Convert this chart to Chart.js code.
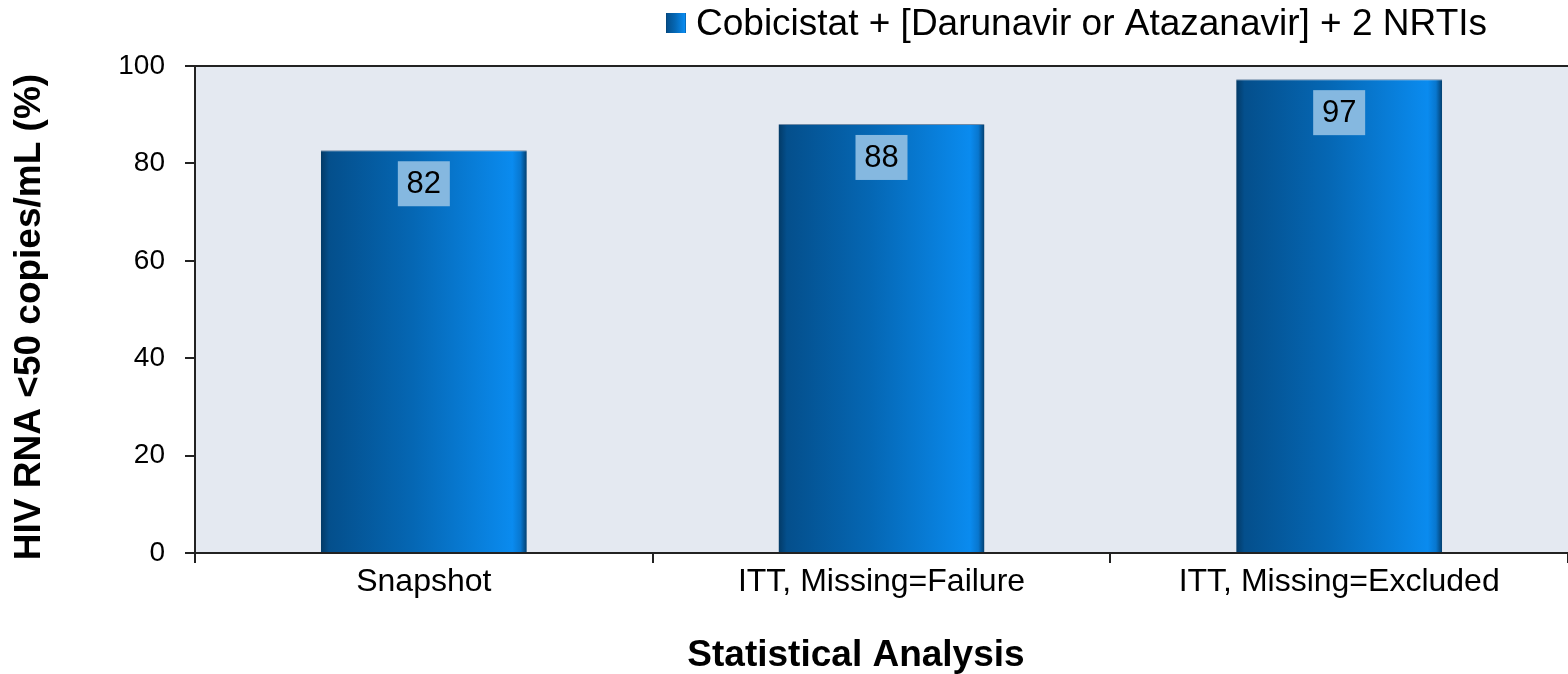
<!DOCTYPE html>
<html>
<head>
<meta charset="utf-8">
<script src="https://cdn.jsdelivr.net/npm/chart.js@4/dist/chart.umd.min.js"></script>
<style>
  html,body{margin:0;padding:0;background:#fff;}
  #wrap{width:1568px;height:674px;position:relative;}
</style>
</head>
<body>
<div id="wrap"><canvas id="c"></canvas></div>
<script>
// data
const categories = ['Snapshot', 'ITT, Missing=Failure', 'ITT, Missing=Excluded'];
const values = [82.7, 88.1, 97.3];
const valueLabels = ['82', '88', '97'];
const seriesName = 'Cobicistat + [Darunavir or Atazanavir] + 2 NRTIs';
const yTicks = [0, 20, 40, 60, 80, 100];
const xTitle = 'Statistical Analysis';
const yTitle = 'HIV RNA <50 copies/mL (%)';

const FONT = "'Liberation Sans', Arial, sans-serif";
const INK = '#000';
const AXIS = '#222';

function barGradient(ctx, x0, x1){
  const g = ctx.createLinearGradient(x0, 0, x1, 0);
  g.addColorStop(0, '#033a66');
  g.addColorStop(0.04, '#044f8c');
  g.addColorStop(0.45, '#0567b4');
  g.addColorStop(0.93, '#0a8bef');
  g.addColorStop(0.97, '#0877cf');
  g.addColorStop(1, '#033f6f');
  return g;
}

// plot background
const plotBg = {
  id: 'plotBg',
  beforeDraw(chart){
    const {ctx, chartArea: a} = chart;
    ctx.save();
    ctx.fillStyle = '#e4e9f1';
    ctx.fillRect(a.left, a.top, a.right - a.left, a.bottom - a.top);
    ctx.restore();
  }
};

// value boxes near the bar tops
const valueBoxes = {
  id: 'valueBoxes',
  afterDatasetsDraw(chart){
    const ctx = chart.ctx;
    const meta = chart.getDatasetMeta(0);
    ctx.save();
    meta.data.forEach((bar, i) => {
      const w = 52, h = 45;
      const top = bar.y + 11;
      ctx.fillStyle = '#85b8e0';
      ctx.fillRect(bar.x - w/2, top, w, h);
      ctx.fillStyle = INK;
      ctx.font = '31px ' + FONT;
      ctx.textAlign = 'center';
      ctx.textBaseline = 'middle';
      ctx.fillText(valueLabels[i], bar.x, top + h/2 + 1);
    });
    ctx.restore();
  }
};

// legend at the top right, axis titles (placed a bit off the scale centres, like the original)
const extras = {
  id: 'extras',
  afterDraw(chart){
    const ctx = chart.ctx;
    ctx.save();
    const bx = 666, by = 13, s = 20;
    ctx.fillStyle = barGradient(ctx, bx, bx + s);
    ctx.fillRect(bx, by, s, s);
    ctx.fillStyle = INK;
    ctx.font = '37px ' + FONT;
    ctx.textAlign = 'left';
    ctx.textBaseline = 'middle';
    ctx.fillText(seriesName, 696, 25);

    ctx.font = 'bold 37px ' + FONT;
    ctx.textAlign = 'center';
    ctx.fillText(xTitle, 856, 656);

    ctx.translate(30, 317);
    ctx.rotate(-Math.PI / 2);
    ctx.fillText(yTitle, 0, 0);
    ctx.restore();
  }
};

new Chart(document.getElementById('c'), {
  type: 'bar',
  data: {
    labels: categories,
    datasets: [{
      label: seriesName,
      data: values,
      backgroundColor: c => {
        const chart = c.chart;
        if (!chart.chartArea || c.dataIndex === undefined) return '#0567b4';
        const sx = chart.scales.x;
        const cx = sx.getPixelForValue(c.dataIndex);
        const half = (sx.width / categories.length) * 0.45 / 2;
        return barGradient(chart.ctx, cx - half, cx + half);
      },
      borderColor: '#6f8aa6',
      borderWidth: {top: 1, left: 0, right: 0, bottom: 0},
      barPercentage: 0.45,
      categoryPercentage: 1
    }]
  },
  options: {
    responsive: true,
    maintainAspectRatio: false,
    animation: false,
    layout: {padding: {top: 66, right: 0, left: 0, bottom: 0}},
    plugins: {
      legend: {display: false},
      tooltip: {enabled: false}
    },
    scales: {
      x: {
        afterFit: s => { s.height = 121; },
        grid: {
          offset: true,
          drawOnChartArea: false,
          tickColor: AXIS,
          tickLength: 10,
          lineWidth: 2
        },
        border: {color: AXIS, width: 2},
        ticks: {
          color: INK,
          font: {family: FONT, size: 32},
          padding: 0,
          maxRotation: 0
        }
      },
      y: {
        min: 0,
        max: 100,
        afterFit: s => { s.width = 195; },
        afterBuildTicks: s => { s.ticks = yTicks.map(v => ({value: v})); },
        grid: {
          color: c => c.tick && c.tick.value === 100 ? AXIS : 'rgba(0,0,0,0)',
          lineWidth: 2,
          tickColor: AXIS,
          tickLength: 10
        },
        border: {color: AXIS, width: 2},
        ticks: {
          color: INK,
          font: {family: FONT, size: 28},
          padding: 20
        }
      }
    }
  },
  plugins: [plotBg, valueBoxes, extras]
});
</script>
</body>
</html>
